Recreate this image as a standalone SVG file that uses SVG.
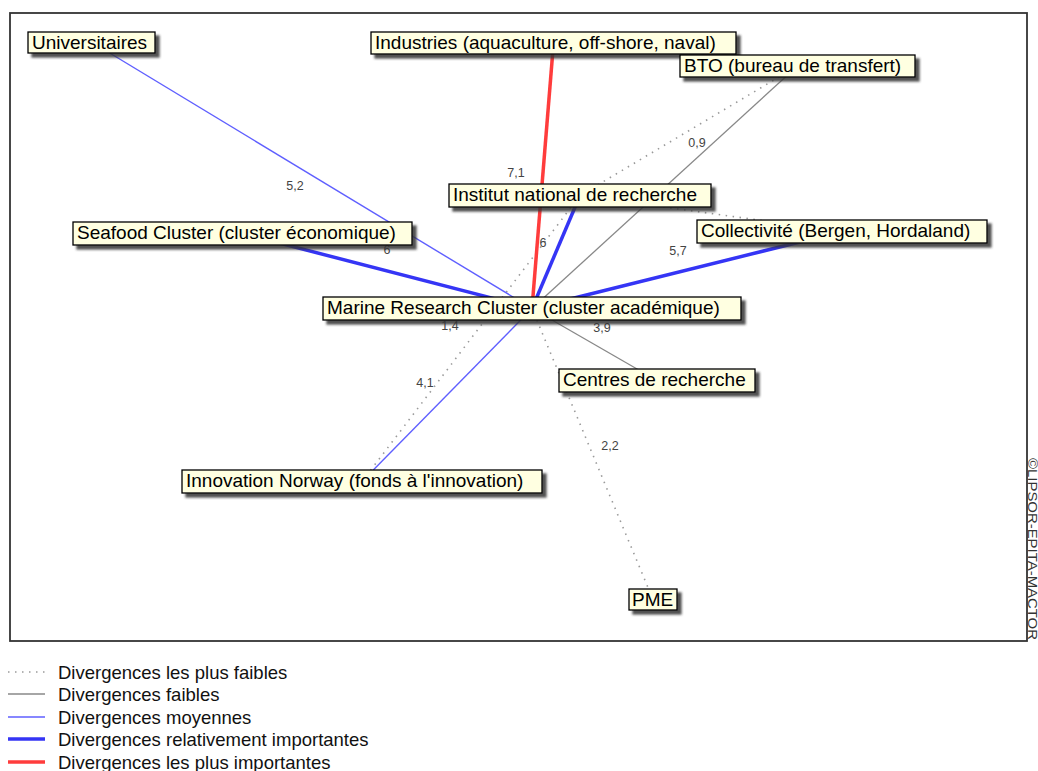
<svg xmlns="http://www.w3.org/2000/svg" width="1038" height="771" viewBox="0 0 1038 771">
<defs>
<filter id="sh" x="-10%" y="-40%" width="130%" height="200%"><feDropShadow dx="4" dy="4" stdDeviation="1.2" flood-color="#333" flood-opacity="0.85"/></filter>
</defs>
<style>
.node rect{fill:#ffffe1;stroke:#000;stroke-width:1.3;filter:url(#sh)}
.node text{font-family:"Liberation Sans",Arial,sans-serif;font-size:19px;fill:#000}
.dot{stroke:#9a9a9a;stroke-width:1.6;stroke-dasharray:1.5 5.5;fill:none}
.weak{stroke:#888;stroke-width:1.3}
.mid{stroke:#5f5fff;stroke-width:1.4}
.strong{stroke:#3535f5;stroke-width:3.5}
.max{stroke:#ff3c3c;stroke-width:3.5}
.lbl{font-family:"Liberation Sans",Arial,sans-serif;font-size:12.5px;fill:#444;text-anchor:middle}
.leg{font-family:"Liberation Sans",Arial,sans-serif;font-size:18.5px;fill:#111}
</style>
<rect x="0" y="0" width="1038" height="771" fill="#fff"/>
<rect x="10" y="13" width="1017" height="628" fill="#fff" stroke="#333" stroke-width="1.8"/>
<text x="1028" y="458" transform="rotate(90 1028 458)" font-family="Liberation Sans,Arial,sans-serif" font-size="12.5" textLength="182" lengthAdjust="spacingAndGlyphs" fill="#333">©LIPSOR-EPITA-MACTOR</text>

<g id="connectors">
<line class="dot" x1="797.5" y1="66" x2="580" y2="195.5"/>
<line class="dot" x1="580" y1="195.5" x2="842" y2="231.5"/>
<line class="dot" x1="362" y1="481.5" x2="580" y2="195.5"/>
<line class="dot" x1="653" y1="599.5" x2="532" y2="308.5"/>
<line class="weak" x1="797.5" y1="66" x2="532" y2="308.5"/>
<line class="weak" x1="657" y1="380.5" x2="532" y2="308.5"/>
<line class="mid" x1="91.5" y1="42" x2="532" y2="308.5"/>
<line class="mid" x1="362" y1="481.5" x2="532" y2="308.5"/>
<line class="strong" x1="242.5" y1="233.5" x2="532" y2="308.5"/>
<line class="strong" x1="580" y1="195.5" x2="532" y2="308.5"/>
<line class="strong" x1="842" y1="231.5" x2="532" y2="308.5"/>
<line class="max" x1="553.5" y1="43" x2="532" y2="308.5"/>
<text class="lbl" x="295" y="190">5,2</text>
<text class="lbl" x="516" y="177">7,1</text>
<text class="lbl" x="697" y="147">0,9</text>
<text class="lbl" x="543" y="247">6</text>
<text class="lbl" x="387" y="254">6</text>
<text class="lbl" x="678" y="255">5,7</text>
<text class="lbl" x="602" y="332">3,9</text>
<text class="lbl" x="450" y="330">1,4</text>
<text class="lbl" x="425" y="387">4,1</text>
<text class="lbl" x="610" y="450">2,2</text>
</g>

<g id="n-univ" class="node"><rect x="28" y="32" width="127" height="21"/><text x="32" y="49">Universitaires</text></g>
<g id="n-industries" class="node"><rect x="371" y="32" width="365" height="22"/><text x="375" y="49">Industries (aquaculture, off-shore, naval)</text></g>
<g id="n-bto" class="node"><rect x="680" y="55" width="235" height="22"/><text x="684" y="72">BTO (bureau de transfert)</text></g>
<g id="n-institut" class="node"><rect x="449" y="184" width="262" height="23"/><text x="453" y="201">Institut national de recherche</text></g>
<g id="n-seafood" class="node"><rect x="73" y="222" width="339" height="23"/><text x="77" y="239">Seafood Cluster (cluster économique)</text></g>
<g id="n-collectivite" class="node"><rect x="697" y="220" width="290" height="23"/><text x="701" y="237">Collectivité (Bergen, Hordaland)</text></g>
<g id="n-mrc" class="node"><rect x="323" y="297" width="418" height="23"/><text x="327" y="314">Marine Research Cluster (cluster académique)</text></g>
<g id="n-centres" class="node"><rect x="559" y="369" width="196" height="23"/><text x="563" y="386">Centres de recherche</text></g>
<g id="n-innovation" class="node"><rect x="182" y="470" width="360" height="23"/><text x="186" y="487">Innovation Norway (fonds à l'innovation)</text></g>
<g id="n-pme" class="node"><rect x="629" y="589" width="48" height="21"/><text x="632" y="606">PME</text></g>

<g id="legend">
<line class="dot" x1="8" y1="672" x2="45" y2="672"/>
<line class="weak" x1="8" y1="694" x2="45" y2="694"/>
<line class="mid" x1="8" y1="717" x2="45" y2="717"/>
<line class="strong" x1="8" y1="739" x2="45" y2="739"/>
<line class="max" x1="8" y1="762" x2="45" y2="762"/>
<text class="leg" x="58" y="679">Divergences les plus faibles</text>
<text class="leg" x="58" y="701">Divergences faibles</text>
<text class="leg" x="58" y="724">Divergences moyennes</text>
<text class="leg" x="58" y="746">Divergences relativement importantes</text>
<text class="leg" x="58" y="769">Divergences les plus importantes</text>
</g>
</svg>
